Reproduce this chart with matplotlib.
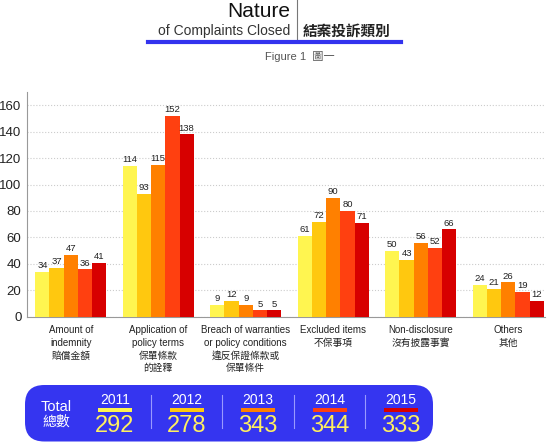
import matplotlib
matplotlib.use('Agg')
import matplotlib.pyplot as plt
from matplotlib.patches import FancyBboxPatch, Rectangle
from matplotlib.lines import Line2D
import numpy as np

plt.rcParams['font.family'] = ['Liberation Sans', 'Noto Sans CJK TC', 'DejaVu Sans']

# --- datos ---
categorias = ['Amount of\nindemnity\n賠償金額',
              'Application of\npolicy terms\n保單條款\n的詮釋',
              'Breach of warranties\nor policy conditions\n違反保證條款或\n保單條件',
              'Excluded items\n不保事項',
              'Non-disclosure\n沒有披露事實',
              'Others\n其他']
anios = ['2011', '2012', '2013', '2014', '2015']
v2011 = [34, 114, 9, 61, 50, 24]
v2012 = [37, 93, 12, 72, 43, 21]
v2013 = [47, 115, 9, 90, 56, 26]
v2014 = [36, 152, 5, 80, 52, 19]
v2015 = [41, 138, 5, 71, 66, 12]
totales = [292, 278, 343, 344, 333]

series = [v2011, v2012, v2013, v2014, v2015]
colores = ['#FFF550', '#FFC80F', '#FF8000', '#FF4010', '#D70000']

W, H = 550, 443
fig = plt.figure(figsize=(5.5, 4.43), dpi=100)

def fx(px):
    return px / W

def fy(py):
    return 1 - py / H

ax = fig.add_axes([fx(27), fy(316.7), fx(545) - fx(27), (316.7 - 92) / H])

x = np.arange(len(categorias))
ancho = 0.162
for i, (vals, col) in enumerate(zip(series, colores)):
    pos = x + (i - 2) * ancho
    barras = ax.bar(pos, vals, width=ancho, color=col, zorder=3)
    for b, v in zip(barras, vals):
        ax.text(b.get_x() + b.get_width() / 2, v + 1.2, str(v),
                ha='center', va='bottom', fontsize=6.8, color='#222222', zorder=4)

ax.set_xlim(-0.5, 5.42)
ax.set_ylim(0, 170)
ax.set_yticks(range(0, 161, 20))
ax.tick_params(axis='y', length=0, labelsize=9.5, pad=4, colors='#222222')
ax.set_xticks(x)
ax.set_xticklabels(categorias, fontsize=7, linespacing=1.35, color='#222222')
ax.tick_params(axis='x', length=0, pad=6)
ax.grid(axis='y', linestyle=':', color='#cccccc', linewidth=0.8, zorder=0)
for s in ['top', 'right']:
    ax.spines[s].set_visible(False)
for s in ['left', 'bottom']:
    ax.spines[s].set_color('#999999')
    ax.spines[s].set_linewidth(0.8)

# --- encabezado ---
fig.text(fx(290), fy(17), 'Nature', ha='right', va='baseline', fontsize=15, color='#111111')
fig.text(fx(290), fy(35), 'of Complaints Closed', ha='right', va='baseline', fontsize=10, color='#333333')
fig.text(fx(303), fy(36), '結案投訴類別', ha='left', va='baseline', fontsize=10.5,
         fontweight='bold', color='#222222')
fig.add_artist(Line2D([fx(297), fx(297)], [fy(0), fy(40)], color='#777777', linewidth=0.8))
fig.add_artist(Line2D([fx(148), fx(401)], [fy(42), fy(42)], color='#3333EE', linewidth=3))
fig.text(fx(300), fy(57), 'Figure 1  圖一', ha='center', va='center', fontsize=8, color='#555555')

# --- recuadro de totales ---
caja = FancyBboxPatch((fx(25), fy(441.5)), fx(433) - fx(25), (441.5 - 385) / H,
                      boxstyle='round,pad=0,rounding_size=0.035', transform=fig.transFigure,
                      facecolor='#3535F0', edgecolor='none', mutation_aspect=W / H)
fig.add_artist(caja)
fig.text(fx(56), fy(407), 'Total', ha='center', va='center', fontsize=10.5, color='white')
fig.text(fx(56), fy(422), '總數', ha='center', va='center', fontsize=10, color='white')

xs_anio = [115, 186.5, 258, 329.5, 401]
for xa, anio, tot, col in zip(xs_anio, anios, totales, colores):
    fig.text(fx(xa), fy(400), anio, ha='center', va='center', fontsize=10, color='white')
    fig.add_artist(Rectangle((fx(xa - 17), fy(412)), fx(34), 4 / H,
                             transform=fig.transFigure, facecolor=col, edgecolor='none'))
    fig.text(fx(xa), fy(426), str(tot), ha='center', va='center', fontsize=17, color='#FFF060')
for xs in [150.7, 222, 293.7, 365]:
    fig.add_artist(Line2D([fx(xs), fx(xs)], [fy(395), fy(428)], color='#9999FF', linewidth=0.8))

fig.savefig('out.png', dpi=100)
